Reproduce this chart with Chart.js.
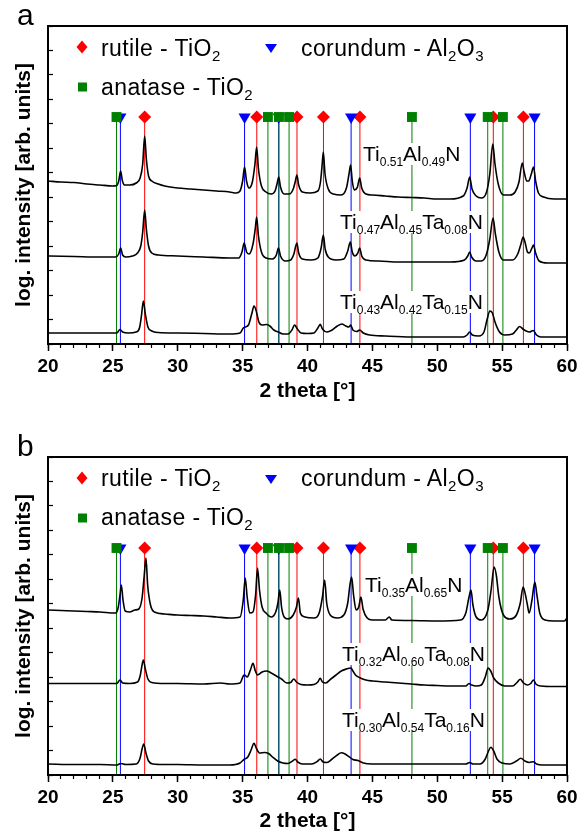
<!DOCTYPE html>
<html>
<head>
<meta charset="utf-8">
<script src="https://cdn.jsdelivr.net/npm/chart.js@4.4.1/dist/chart.umd.min.js"></script>
<style>
  body { margin: 0; background: #fff; font-family: "Liberation Sans", Arial, sans-serif; color: #000; }
  #page { position: relative; width: 583px; height: 832px; overflow: hidden; }
  .panel { position: absolute; left: 0; width: 583px; height: 416px; }
  .tag { position: absolute; font-size: 30px; line-height: 30px; }
  .leg { position: absolute; font-size: 23px; line-height: 22px; letter-spacing: 0.4px; white-space: nowrap; }
  .leg sub { font-size: 15px; line-height: 0; vertical-align: -5px; }
  .lbl { position: absolute; font-size: 21px; line-height: 22px; white-space: nowrap; background: #fff; }
  .lbl sub { font-size: 12px; line-height: 0; vertical-align: -5px; }
</style>
</head>
<body>
<div id="page">
  <div class="panel" style="top:0"><canvas id="xrdA" width="583" height="416"></canvas></div>
  <div class="panel" style="top:416px"><canvas id="xrdB" width="583" height="416"></canvas></div>

  <div class="tag" style="left:17px;top:0px">a</div>
  <div class="leg" style="left:101px;top:37px">rutile - TiO<sub>2</sub></div>
  <div class="leg" style="left:301px;top:37px">corundum - Al<sub>2</sub>O<sub>3</sub></div>
  <div class="leg" style="left:101px;top:76px">anatase - TiO<sub>2</sub></div>
  <div class="lbl" style="left:363px;top:143px">Ti<sub>0.51</sub>Al<sub>0.49</sub>N</div>
  <div class="lbl" style="left:340px;top:211px">Ti<sub>0.47</sub>Al<sub>0.45</sub>Ta<sub>0.08</sub>N</div>
  <div class="lbl" style="left:340px;top:291px">Ti<sub>0.43</sub>Al<sub>0.42</sub>Ta<sub>0.15</sub>N</div>

  <div class="tag" style="left:17px;top:431px">b</div>
  <div class="leg" style="left:101px;top:467px">rutile - TiO<sub>2</sub></div>
  <div class="leg" style="left:301px;top:467px">corundum - Al<sub>2</sub>O<sub>3</sub></div>
  <div class="leg" style="left:101px;top:506px">anatase - TiO<sub>2</sub></div>
  <div class="lbl" style="left:365px;top:574px">Ti<sub>0.35</sub>Al<sub>0.65</sub>N</div>
  <div class="lbl" style="left:342px;top:643px">Ti<sub>0.32</sub>Al<sub>0.60</sub>Ta<sub>0.08</sub>N</div>
  <div class="lbl" style="left:342px;top:709px">Ti<sub>0.30</sub>Al<sub>0.54</sub>Ta<sub>0.16</sub>N</div>
</div>

<script>
// x axis tick labels (2 theta, degrees)
const xTickLabels = [20, 25, 30, 35, 40, 45, 50, 55, 60];

// reference peak positions (2 theta)
const rutilePeaks = [27.45, 36.09, 39.19, 41.23, 44.04, 54.32, 56.64];
const corundumPeaks = [25.58, 35.15, 37.78, 43.36, 52.55, 57.50];
const anatasePeaks = [25.28, 36.95, 37.80, 38.58, 48.05, 53.89, 55.06];

// panel a: [2 theta, log intensity (offset, arb.)]
const ti051al049 = [[20,163],[21,162],[22,161.5],[23,160],[24,159],[25,158],[25.3,158.5],[25.45,163],[25.6,173],[25.72,164],[25.9,159],[26.3,159],[26.8,161],[27.1,166],[27.3,180],[27.45,208],[27.58,185],[27.75,168],[28.0,163],[28.5,160],[29,158],[30,156],[31,155],[32,154],[33,153],[34,152],[34.5,151],[34.8,153],[35.0,163],[35.15,177],[35.3,163],[35.5,156],[35.75,162],[35.95,180],[36.08,197],[36.22,175],[36.45,158],[36.8,152],[37.2,150],[37.5,153],[37.65,160],[37.78,167],[37.92,157],[38.2,150],[38.6,150],[38.9,155],[39.05,162],[39.18,169],[39.32,159],[39.6,152],[40.2,151],[40.8,153],[41.0,162],[41.12,178],[41.22,192],[41.35,170],[41.6,155],[42,150],[42.6,149],[43.0,156],[43.2,170],[43.32,179],[43.45,163],[43.6,154],[43.85,157],[44.02,166],[44.18,156],[44.5,150],[45,149],[46,148],[47,147],[48,146.5],[49,146],[50,145],[51,145],[52.0,148],[52.3,156],[52.5,167],[52.68,155],[53.0,148],[53.4,146],[53.8,152],[54.05,170],[54.28,200],[54.45,180],[54.7,160],[55.1,149],[55.6,149],[56.0,152],[56.3,162],[56.55,181],[56.7,172],[56.9,163],[57.05,163],[57.25,170],[57.42,177],[57.58,163],[57.8,151],[58.2,147],[59,145],[60,145]];
const ti047al045ta008 = [[20,88],[22,87.5],[24,87],[25.2,87],[25.45,90],[25.6,96],[25.75,89],[26.0,87],[26.5,88],[26.9,91],[27.15,98],[27.3,112],[27.45,134],[27.58,115],[27.75,98],[28.0,91],[28.5,89],[30,88],[32,87],[34,86],[34.7,86],[34.95,92],[35.12,101],[35.3,92],[35.5,90],[35.8,100],[35.98,116],[36.08,127],[36.22,108],[36.45,92],[36.8,86],[37.3,85],[37.6,89],[37.76,96],[37.92,88],[38.3,83],[38.7,84],[38.95,90],[39.18,101],[39.32,91],[39.6,85],[40.3,84],[40.8,86],[41.05,96],[41.22,109],[41.36,95],[41.6,87],[42.2,84],[42.8,85],[43.1,93],[43.3,102],[43.45,92],[43.65,88],[43.88,91],[44.02,96],[44.18,88],[44.5,84],[45.5,83],[47,82],[49,82],[51,82],[52.1,84],[52.35,88],[52.5,92],[52.65,87],[53.0,83],[53.4,83],[53.8,90],[54.05,105],[54.3,126],[54.48,110],[54.75,92],[55.1,84],[55.8,84],[56.2,90],[56.45,100],[56.62,107],[56.78,101],[56.95,92],[57.1,91],[57.3,96],[57.42,99],[57.58,91],[57.85,83],[58.5,81],[60,81]];
const ti043al042ta015 = [[20,11],[22,11],[24,11],[25.3,11],[25.55,14.5],[25.75,12],[26.2,11],[26.8,12],[27.05,16],[27.2,28],[27.35,43],[27.5,30],[27.7,17],[28,13],[28.5,11.5],[30,11],[32,10.5],[34,10],[34.8,11],[35.05,16],[35.2,17],[35.45,19],[35.7,30],[35.88,38],[36.05,33],[36.25,22],[36.5,19],[36.85,19.5],[37.1,18],[37.4,14],[37.75,12],[38.1,10],[38.5,10],[38.8,14],[39.0,19],[39.2,15.5],[39.5,11],[40.0,10.5],[40.5,11],[40.8,16],[40.98,19.7],[41.15,15],[41.5,12],[41.9,14],[42.3,18],[42.65,20],[42.95,18],[43.2,17],[43.32,19],[43.5,14],[43.8,12.5],[44.02,14],[44.3,11],[44.8,9],[46,8],[48,7],[50,7],[52,7],[52.3,9],[52.5,12],[52.7,9],[53.2,8],[53.6,12],[53.85,25],[54.05,33],[54.25,31],[54.45,22],[54.8,12],[55.2,9],[55.8,10],[56.1,14],[56.35,17.5],[56.6,15],[56.85,13],[57.1,12],[57.4,13.5],[57.65,9],[58,7],[59,7],[60,7]];

// panel b
const ti035al065 = [[20,165],[21,164.5],[22,164],[23,163.5],[24,163],[25.2,162],[25.4,167],[25.55,180],[25.65,190],[25.78,175],[25.95,164],[26.3,163],[26.7,165],[27.0,166],[27.25,177],[27.42,200],[27.55,217],[27.68,190],[27.9,170],[28.2,163],[29,161],[30,160],[31,159.5],[32,159],[33,158],[34,157],[34.8,158],[35.05,175],[35.2,197],[35.35,178],[35.55,162],[35.8,163],[36.0,180],[36.15,207],[36.3,185],[36.5,168],[36.8,162],[37.2,158],[37.55,163],[37.72,172],[37.86,185],[38.0,168],[38.2,158],[38.5,156],[38.9,160],[39.15,168],[39.3,177],[39.45,162],[39.8,158],[40.5,157],[40.9,162],[41.15,178],[41.32,195],[41.48,172],[41.75,160],[42.3,157],[42.8,160],[43.1,172],[43.27,190],[43.4,198],[43.55,180],[43.75,165],[43.95,168],[44.12,178],[44.28,166],[44.6,157],[45,155],[46.0,155],[46.3,158],[46.5,155],[48,154.5],[50,154],[51.8,155],[52.2,162],[52.45,178],[52.6,185],[52.75,170],[53.0,158],[53.4,155],[53.9,165],[54.15,185],[54.38,208],[54.55,200],[54.75,178],[55.1,160],[55.6,156],[56.1,160],[56.4,172],[56.62,188],[56.8,180],[56.95,170],[57.08,162],[57.3,175],[57.52,193],[57.68,180],[57.9,162],[58.3,155],[59,154],[59.8,154],[60,157]];
const ti032al060ta008 = [[20,91.5],[22,91.5],[24,91.5],[25.3,91.5],[25.55,95],[25.75,92],[26.3,91.5],[26.9,93],[27.1,99],[27.25,110],[27.35,115],[27.5,106],[27.7,96],[28,92.5],[29,91.5],[30,91.5],[32,91],[33.3,92],[34,91],[34.8,92],[35.05,99],[35.15,100],[35.35,98],[35.6,105],[35.8,111.7],[35.98,104],[36.15,100],[36.5,103],[36.85,104],[37.2,102],[37.6,99],[38.0,96],[38.4,92],[38.7,92.5],[38.95,96],[39.15,93],[39.5,90.5],[40,90],[40.5,90.5],[40.8,93],[40.98,96.7],[41.15,93],[41.4,92],[41.8,96],[42.2,100],[42.6,104],[43.0,106],[43.35,107],[43.5,104],[43.7,100],[44.0,97.5],[44.5,95],[45,94],[46,93],[47,92],[48,91],[49,90],[50,89.5],[51,89],[52.2,89],[52.45,91.5],[52.65,90],[53.0,89],[53.4,90],[53.7,98],[53.92,107],[54.12,104],[54.35,97],[54.7,92],[55.2,89],[55.8,89],[56.15,92.5],[56.4,95.7],[56.65,92],[56.95,90],[57.2,91.5],[57.42,95],[57.6,91],[58,89],[59,88.5],[60,88.5]];
const ti030al054ta016 = [[20,11],[22,10.5],[24,10.5],[25.3,10],[25.6,11.5],[26,10.5],[26.8,11],[27.1,17],[27.25,26],[27.38,31],[27.55,22],[27.75,14],[28.1,11],[29,10.5],[30,10.5],[32,10],[34,10],[34.8,12],[35.1,15.5],[35.4,18],[35.65,25],[35.88,31.7],[36.05,27],[36.3,22],[36.7,22.5],[37.0,21.5],[37.3,18],[37.7,14],[38.1,12],[38.5,11.5],[38.85,14],[39.05,15.7],[39.25,13],[39.6,11],[40.3,11],[40.75,13.5],[40.98,16],[41.2,13],[41.5,12.5],[41.9,16],[42.3,20],[42.6,22.3],[42.9,21],[43.2,18.3],[43.5,15.5],[43.9,14.5],[44.3,12],[45,11],[46,11],[48,11],[50,11],[52.2,11],[52.5,12.5],[52.75,11],[53.3,11],[53.7,16],[53.95,24],[54.13,27.7],[54.35,24],[54.6,16],[55.0,12],[55.6,11],[56.1,14],[56.45,16.7],[56.75,14],[57.1,12.5],[57.4,13.3],[57.65,11],[58.1,10],[59,10],[60,10]];

const MARK_Y = 227;   // height of the reference markers
const Y_MAX = 318;
const FONT = '"Liberation Sans", Arial, sans-serif';

const phases = [
  { peaks: anatasePeaks, color: '#008000', style: 'rect', radius: 7, rotation: 0 },
  { peaks: corundumPeaks, color: '#0000ff', style: 'triangle', radius: 7, rotation: 180 },
  { peaks: rutilePeaks, color: '#ff0000', style: 'rectRot', radius: 6.5, rotation: 0 }
];

function stickData(peaks) {
  const out = [];
  peaks.forEach(p => { out.push({ x: p, y: 0 }, { x: p, y: MARK_Y }, { x: p, y: null }); });
  return out;
}

// box round the plot + legend symbols
const framePlugin = {
  id: 'frame',
  afterDraw(chart) {
    const { ctx, chartArea: a } = chart;
    ctx.save();
    ctx.lineWidth = 2;
    ctx.strokeStyle = '#000';
    ctx.strokeRect(a.left, a.top, a.right - a.left, a.bottom - a.top);

    // legend symbols
    let x = a.left + 34, y = a.top + 21;
    ctx.fillStyle = '#ff0000';
    ctx.beginPath();
    ctx.moveTo(x, y - 6.5); ctx.lineTo(x + 5.5, y); ctx.lineTo(x, y + 6.5); ctx.lineTo(x - 5.5, y);
    ctx.closePath(); ctx.fill();

    x = a.left + 223;
    ctx.fillStyle = '#0000ff';
    ctx.beginPath();
    ctx.moveTo(x - 6, y - 3); ctx.lineTo(x + 6, y - 3); ctx.lineTo(x, y + 6);
    ctx.closePath(); ctx.fill();

    x = a.left + 34.5; y = a.top + 61;
    ctx.fillStyle = '#008000';
    ctx.fillRect(x - 4.5, y - 4.5, 9, 9);
    ctx.restore();
  }
};

function makeChart(id, traces, padTop, axisH, titlePad) {
  const datasets = [];
  traces.forEach(t => {
    datasets.push({
      type: 'line',
      data: t.map(p => ({ x: p[0], y: p[1] })),
      borderColor: '#000',
      borderWidth: 1.6,
      pointRadius: 0,
      cubicInterpolationMode: 'monotone',
      order: 0
    });
  });
  phases.forEach(ph => {
    datasets.push({
      type: 'line',
      data: stickData(ph.peaks),
      borderColor: ph.color,
      borderWidth: 1,
      pointRadius: 0,
      spanGaps: false,
      order: 2
    });
    datasets.push({
      type: 'scatter',
      data: ph.peaks.map(p => ({ x: p, y: MARK_Y })),
      pointStyle: ph.style,
      pointRadius: ph.radius,
      rotation: ph.rotation,
      backgroundColor: ph.color,
      borderWidth: 0,
      order: 1
    });
  });

  return new Chart(document.getElementById(id), {
    type: 'line',
    data: { datasets },
    plugins: [framePlugin],
    options: {
      responsive: false,
      animation: false,
      devicePixelRatio: 1,
      layout: { padding: { left: 0, right: 16, top: padTop, bottom: 0 } },
      plugins: { legend: { display: false }, tooltip: { enabled: false } },
      scales: {
        x: {
          type: 'linear', min: 20, max: 60, weight: 1,
          afterBuildTicks: s => { s.ticks = xTickLabels.map(v => ({ value: v })); },
          afterFit: s => { s.height = axisH; },
          border: { display: false },
          grid: { drawOnChartArea: false, tickLength: 7, tickWidth: 1.5, tickColor: '#000' },
          ticks: { color: '#000', padding: 4, maxRotation: 0, font: { family: FONT, size: 19, weight: 'bold' } },
          title: {
            display: true, text: '2 theta [°]', color: '#000',
            padding: { top: 0, bottom: titlePad },
            font: { family: FONT, size: 21, weight: 'bold', lineHeight: 1 }
          }
        },
        xMinor: {
          type: 'linear', position: 'bottom', min: 20, max: 60, weight: 0,
          afterBuildTicks: s => {
            const t = [];
            for (let v = 20; v <= 60; v++) t.push({ value: v });
            s.ticks = t;
          },
          afterFit: s => { s.height = 0; },
          border: { display: false },
          grid: { drawOnChartArea: false, tickLength: 4, tickWidth: 1.2, tickColor: '#000' },
          ticks: { display: false }
        },
        y: {
          type: 'linear', min: 0, max: Y_MAX,
          afterFit: s => { s.width = 48; },
          border: { display: false },
          grid: { drawOnChartArea: false, tickLength: -5, tickWidth: 1.2, tickColor: '#000' },
          ticks: { display: false, count: 14 },
          title: {
            display: true, text: 'log. intensity [arb. units]', color: '#000',
            padding: { top: 14, bottom: 0 },
            font: { family: FONT, size: 21, weight: 'bold', lineHeight: 1 }
          }
        }
      }
    }
  });
}

makeChart('xrdA', [ti051al049, ti047al045ta008, ti043al042ta015], 26, 72, 14);
makeChart('xrdB', [ti035al065, ti032al060ta008, ti030al054ta016], 41, 57, 0);
</script>
</body>
</html>
